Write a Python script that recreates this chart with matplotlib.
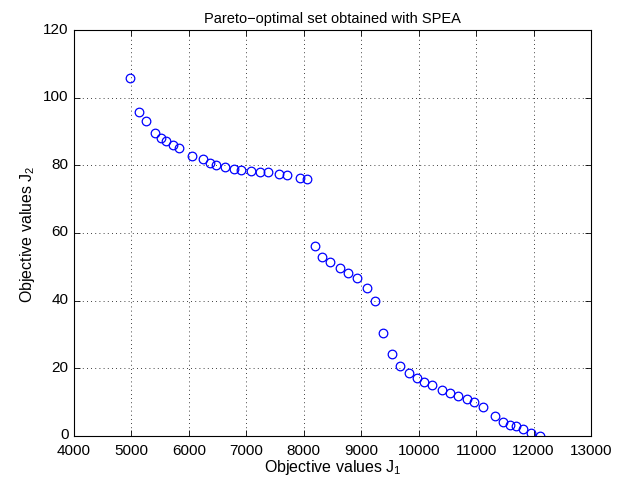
import numpy as np
import matplotlib
matplotlib.use('Agg')
import matplotlib.pyplot as plt
import matplotlib.transforms as mtransforms

# Pareto front found by SPEA: objective J1 vs objective J2
j1 = [4975, 5126, 5253, 5410, 5509, 5607, 5718, 5828, 6049, 6240, 6362,
      6472, 6629, 6780, 6913, 7076, 7244, 7383, 7564, 7708, 7935, 8050,
      8201, 8323, 8457, 8626, 8776, 8922, 9106, 9246, 9385, 9531,
      9681, 9827, 9971, 10093, 10227, 10401, 10546, 10691, 10842, 10964,
      11126, 11324, 11469, 11596, 11700, 11812, 11956, 12118]
j2 = [105.8, 95.9, 93.2, 89.7, 88.2, 87.1, 86.0, 85.1, 82.9, 81.8, 80.8,
      80.0, 79.4, 79.0, 78.6, 78.4, 78.1, 77.9, 77.5, 77.1, 76.4, 76.0,
      56.2, 53.0, 51.3, 49.7, 48.2, 46.8, 43.8, 39.8, 30.3, 24.2,
      20.7, 18.6, 17.1, 16.1, 15.0, 13.7, 12.8, 11.9, 10.9, 10.1,
      8.7, 6.0, 4.0, 3.2, 3.0, 2.1, 1.0, 0.0]

plt.rcParams['font.family'] = ['Liberation Sans', 'DejaVu Sans']
plt.rcParams['font.size'] = 11
plt.rcParams['mathtext.default'] = 'regular'

fig = plt.figure(figsize=(6.31, 4.85), dpi=100)
ax = fig.add_axes([74/631, 48/485, 517/631, 406/485])

ax.plot(j1, j2, 'o', markerfacecolor='none', markeredgecolor='b',
        markersize=6.2, markeredgewidth=0.9)

ax.set_xlim(4000, 13000)
ax.set_ylim(0, 120)
ax.set_xticks(np.arange(4000, 13001, 1000))
ax.set_yticks(np.arange(0, 121, 20))
ax.grid(True, color='k', linestyle=(0, (1, 4)), linewidth=0.6)
ax.tick_params(direction='in', top=True, right=True, length=4, width=0.6,
               labelsize=11)
ax.tick_params(axis='x', pad=5)
ax.tick_params(axis='y', pad=4)
for s in ax.spines.values():
    s.set_linewidth(0.8)

# nudge y tick labels up a little so "0" clears "4000"
shift = mtransforms.ScaledTranslation(0, 3/100, fig.dpi_scale_trans)
for lbl in ax.get_yticklabels():
    lbl.set_transform(lbl.get_transform() + shift)

ax.set_xlabel('Objective values J$_1$', fontsize=11.5, labelpad=0)
ax.set_ylabel('Objective values J$_2$', fontsize=11.5, labelpad=4)
ax.set_title('Pareto\u2212optimal set obtained with SPEA', fontsize=10.5, pad=6)

fig.savefig('out.png', dpi=100)
